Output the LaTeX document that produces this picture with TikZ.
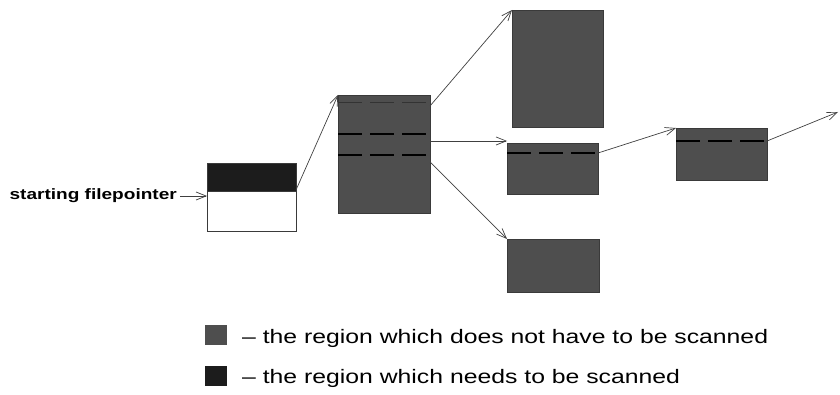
\documentclass[tikz,border=0pt]{standalone}
\usepackage{fontspec}
\setmainfont{Liberation Sans}
\newfontfamily\widefont[FakeStretch=1.27]{Liberation Sans}
\newfontfamily\labelfont[FakeStretch=1.27]{Liberation Sans}
\usetikzlibrary{arrows.meta}
\definecolor{regiongray}{HTML}{4E4E4E}
\definecolor{scangray}{HTML}{1C1C1C}
\definecolor{edgegray}{HTML}{3A3A3A}
\begin{document}
\begin{tikzpicture}[x=1pt,y=-1pt,
  region/.style={draw=edgegray, line width=0.6pt, fill=regiongray,
    anchor=north west, inner sep=0pt, outer sep=0pt},
  ptr/.style={-{Straight Barb[length=10pt,width=8pt]}, line width=0.7pt, draw=black!75},
  split/.style={dash pattern=on 24pt off 8pt, line width=1.4pt, draw=black},
  legendtext/.style={anchor=west, inner sep=0pt, font=\widefont\fontsize{19.5}{22}\selectfont}]
\useasboundingbox (0,0) rectangle (840,395);

% file blocks
\node[region, fill=white, minimum width=89pt, minimum height=68pt] (s) at (207,163) {};
\node[region, fill=scangray, minimum width=89pt, minimum height=28pt] (sd) at (207,163) {};
\node[region, minimum width=92pt, minimum height=118pt] (b) at (338,95) {};
\node[region, minimum width=91pt, minimum height=117pt] (c) at (512,10) {};
\node[region, minimum width=91pt, minimum height=51pt] (d) at (507,143) {};
\node[region, minimum width=92pt, minimum height=53pt] (e) at (507,239) {};
\node[region, minimum width=91pt, minimum height=52pt] (f) at (676,128) {};

% block boundaries inside the regions
\draw[split, line width=0.7pt, draw=black!80] ([yshift=-7pt]b.north west) -- ([yshift=-7pt]b.north east);
\draw[split] ([yshift=-39pt]b.north west) -- ([yshift=-39pt]b.north east);
\draw[split] ([yshift=-60pt]b.north west) -- ([yshift=-60pt]b.north east);
\draw[split] ([yshift=-10pt]d.north west) -- ([yshift=-10pt]d.north east);
\draw[split] ([yshift=-13pt]f.north west) -- ([yshift=-13pt]f.north east);

% start pointer
\node[anchor=east, inner sep=0pt, font=\labelfont\bfseries\fontsize{15}{17}\selectfont] (lbl) at (177,196) {starting filepointer};
\draw[ptr] ([xshift=3pt]lbl.east) -- (s.west |- lbl.east);

% pointers between blocks
\draw[ptr] ([yshift=-27pt]s.north east) -- (b.north west);
\draw[ptr] ([yshift=-11pt]b.north east) -- (c.north west);
\draw[ptr] ([yshift=-46pt]b.north east) -- ([yshift=2pt]d.north west);
\draw[ptr] ([yshift=-67pt]b.north east) -- (e.north west);
\draw[ptr] ([yshift=-10pt]d.north east) -- (f.north west);
\coordinate (out) at (838,112);
\draw[ptr] ([yshift=-13pt]f.north east) -- (out);

% legend
\node[region, draw=none, minimum width=22pt, minimum height=20pt] (k1) at (205,325) {};
\node[region, draw=none, fill=scangray, minimum width=22pt, minimum height=20pt] (k2) at (205,366) {};
\node[legendtext] (t1) at (242,338) {\textendash{} the region which does not have to be scanned};
\node[legendtext] (t2) at (242,378) {\textendash{} the region which needs to be scanned};
\end{tikzpicture}
\end{document}
